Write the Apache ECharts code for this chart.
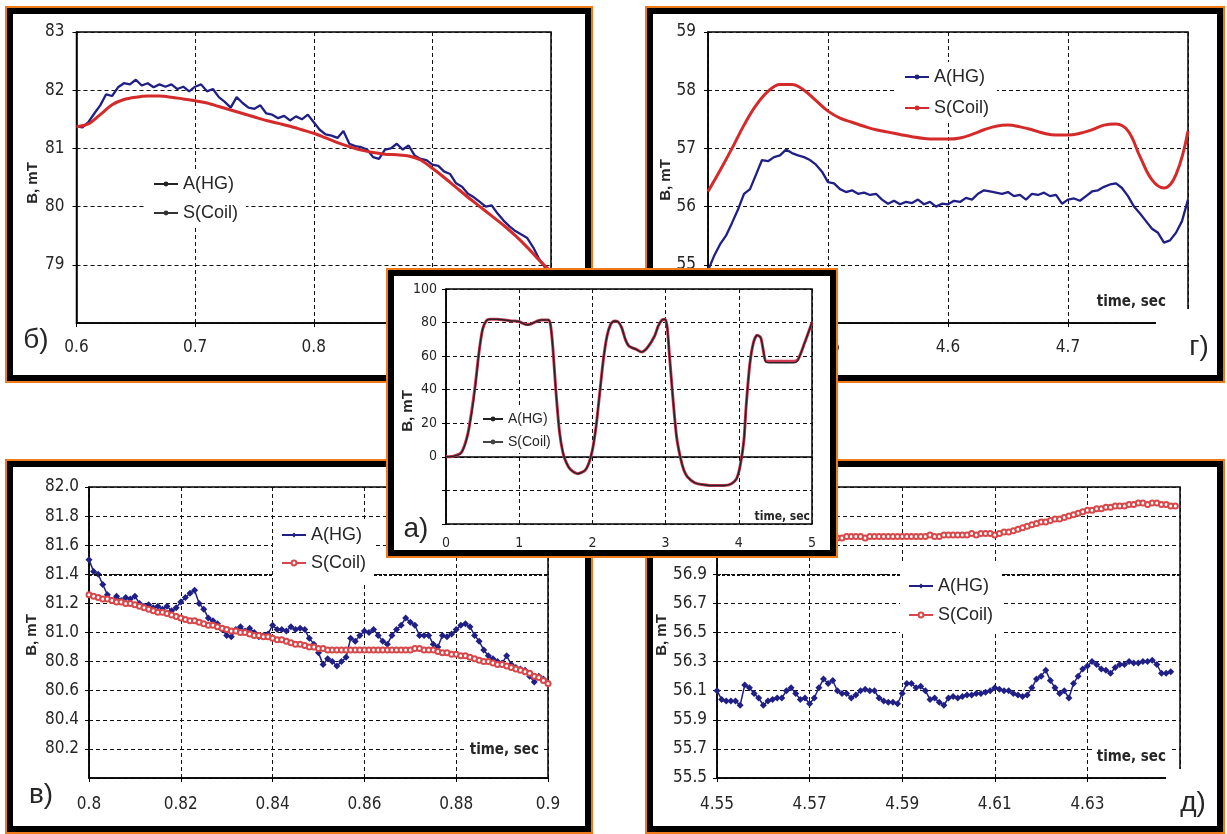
<!DOCTYPE html>
<html>
<head>
<meta charset="utf-8">
<title>B(t): A(HG) / S(Coil)</title>
<script src="https://cdn.jsdelivr.net/npm/echarts@6/dist/echarts.min.js"></script>
<style>
html, body { margin: 0; padding: 0; background: #fff; }
body { width: 1227px; height: 834px; position: relative; overflow: hidden; }
.panel { position: absolute; box-sizing: border-box; border: 6px solid #000; outline: 2px solid #ef7a1a; background: #fff; }
.panel > div { width: 100%; height: 100%; }
</style>
</head>
<body>
<div class="panel" id="pb" style="left:7px;top:8px;width:584px;height:373px"><div id="cb"></div></div>
<div class="panel" id="pg" style="left:647px;top:8px;width:576px;height:373px"><div id="cg"></div></div>
<div class="panel" id="pv" style="left:7px;top:461px;width:584px;height:371px"><div id="cv"></div></div>
<div class="panel" id="pd" style="left:647px;top:461px;width:576px;height:371px"><div id="cd"></div></div>
<div class="panel" id="pa" style="left:388px;top:270px;width:448px;height:286px;z-index:10"><div id="ca"></div></div>

<script type="text/javascript">
// ---- data ----

// б) 0.6 .. 1.0 s
var bTimeA0 = 0.6, bStepA = 0.005;
var bHG = [81.38,81.36,81.45,81.60,81.74,81.93,81.90,82.05,82.12,82.10,
           82.18,82.08,82.12,82.05,82.10,82.06,82.10,82.02,82.06,81.98,
           82.06,82.10,81.98,82.02,81.88,81.80,81.70,81.88,81.78,81.70,
           81.68,81.74,81.60,81.58,81.52,81.56,81.48,81.55,81.50,81.58,
           81.45,81.32,81.24,81.22,81.18,81.30,81.08,81.04,81.02,80.98,
           80.85,80.82,80.98,81.00,81.08,80.98,81.05,80.88,80.82,80.80,
           80.72,80.70,80.60,80.56,80.40,80.34,80.22,80.16,80.08,80.00,
           80.02,79.88,79.76,79.66,79.58,79.52,79.46,79.30,79.10,78.95];
var bTimeS0 = 0.6, bStepS = 0.01;
var bCoil = [81.37,81.42,81.58,81.75,81.84,81.88,81.90,81.90,81.88,81.85,
             81.82,81.78,81.72,81.66,81.60,81.54,81.48,81.43,81.38,81.32,
             81.26,81.18,81.10,81.03,80.97,80.93,80.90,80.89,80.87,80.80,
             80.66,80.50,80.33,80.16,80.00,79.84,79.68,79.50,79.30,79.08,78.88];

// г) 4.4 .. 4.8 s
var gTimeA0 = 4.4, gStepA = 0.005;
var gHG = [54.90,55.15,55.35,55.50,55.72,55.95,56.22,56.30,56.55,56.80,
           56.78,56.85,56.88,56.98,56.92,56.88,56.85,56.80,56.72,56.60,
           56.42,56.40,56.30,56.25,56.28,56.22,56.24,56.20,56.22,56.12,
           56.05,56.10,56.04,56.08,56.06,56.12,56.04,56.08,56.00,56.05,
           56.04,56.10,56.08,56.15,56.12,56.22,56.28,56.26,56.24,56.22,
           56.25,56.18,56.20,56.12,56.22,56.20,56.24,56.18,56.20,56.05,
           56.12,56.14,56.10,56.18,56.26,56.28,56.34,56.38,56.40,56.32,
           56.18,56.00,55.88,55.75,55.62,55.55,55.38,55.42,55.55,55.75,56.12];
var gTimeS0 = 4.4, gStepS = 0.01;
var gCoil = [56.26,56.62,57.00,57.40,57.74,57.98,58.10,58.10,58.00,57.82,
             57.64,57.52,57.45,57.38,57.32,57.28,57.24,57.20,57.17,57.16,
             57.16,57.18,57.24,57.32,57.38,57.40,57.37,57.32,57.26,57.23,
             57.23,57.26,57.32,57.40,57.42,57.30,56.86,56.46,56.32,56.55,57.30];

// а) whole record 0 .. 5 s  [t, B]
var aHG = [[0,0],[0.1,0.3],[0.2,2],[0.25,6],[0.3,14],[0.35,26],[0.4,42],[0.45,62],[0.5,76],[0.55,81],
           [0.6,82],[0.7,82],[0.8,81.5],[0.9,81],[1.0,80.5],[1.05,79.5],[1.1,78.5],[1.15,79],[1.2,80],
           [1.3,81.5],[1.4,81.5],[1.43,78],[1.46,65],[1.5,40],[1.55,15],[1.6,2],[1.65,-4],[1.7,-7.5],
           [1.8,-10],[1.9,-8],[1.95,-4],[2.0,4],[2.05,18],[2.1,38],[2.15,58],[2.2,72],[2.25,79],[2.3,81],
           [2.35,80.5],[2.4,77],[2.45,70],[2.5,66],[2.6,64],[2.67,62.5],[2.75,65],[2.85,72],[2.9,78],
           [2.95,81.5],[2.99,82],[3.02,78],[3.05,62],[3.1,35],[3.15,12],[3.2,0],[3.25,-8],[3.3,-12],
           [3.4,-15.5],[3.5,-16.5],[3.6,-17],[3.8,-17],[3.9,-16],[3.97,-13],[4.02,-5],[4.07,10],[4.1,30],
           [4.15,55],[4.2,68],[4.25,72.5],[4.3,71],[4.34,62],[4.37,56.5],[4.45,56],[4.6,56],[4.75,56],
           [4.8,57],[4.85,62],[4.9,68],[4.95,74],[5.0,80]];
var aCoil = [[0,0],[0.1,0.4],[0.2,2.2],[0.25,6.5],[0.3,14],[0.35,27],[0.4,43],[0.45,62],[0.5,76],[0.55,81],
             [0.6,82],[0.7,82],[0.8,81.5],[0.9,81],[1.0,80.5],[1.05,79.5],[1.1,79],[1.15,79],[1.2,80],
             [1.3,81.5],[1.4,81.5],[1.43,78],[1.46,65],[1.5,40],[1.55,15],[1.6,2],[1.65,-4],[1.7,-7.5],
             [1.8,-10],[1.9,-8],[1.95,-4],[2.0,4],[2.05,18],[2.1,38],[2.15,58],[2.2,72],[2.25,79],[2.3,81],
             [2.35,80.5],[2.4,77],[2.45,70],[2.5,66],[2.6,64],[2.67,62.5],[2.75,65],[2.85,72],[2.9,78],
             [2.95,81.5],[2.99,82],[3.02,78],[3.05,62],[3.1,35],[3.15,12],[3.2,0],[3.25,-8],[3.3,-12],
             [3.4,-15.5],[3.5,-16.5],[3.6,-17],[3.8,-17],[3.9,-16],[3.97,-13],[4.02,-5],[4.07,10],[4.1,30],
             [4.15,55],[4.2,68],[4.25,72.5],[4.3,71],[4.34,62],[4.37,57],[4.45,57],[4.6,57],[4.75,57],
             [4.8,57.5],[4.85,62],[4.9,68],[4.95,74],[5.0,80]];

// в) 0.80 .. 0.90 s
var vTime0 = 0.8, vStep = 0.001;
var vHG = [81.50,81.42,81.40,81.33,81.26,81.22,81.25,81.22,81.24,81.23,
           81.25,81.20,81.18,81.19,81.17,81.18,81.16,81.18,81.15,81.17,
           81.21,81.24,81.27,81.29,81.20,81.16,81.10,81.08,81.06,81.02,
           80.98,80.97,81.02,81.04,81.01,81.03,81.00,80.97,80.98,80.99,
           81.05,81.02,81.02,81.01,81.04,81.02,81.03,81.02,80.96,80.92,
           80.86,80.78,80.82,80.80,80.77,80.80,80.83,80.96,80.94,80.98,
           81.01,81.00,81.02,80.98,80.94,80.92,80.98,81.02,81.05,81.10,
           81.07,81.05,80.98,80.98,80.98,80.92,80.90,80.98,80.97,80.99,
           81.02,81.05,81.06,81.04,80.98,80.94,80.88,80.84,80.82,80.80,
           80.79,80.84,80.78,80.76,80.75,80.74,80.70,80.66,80.70,80.68,80.65];
var vCoil = [81.26,81.25,81.24,81.23,81.23,81.22,81.21,81.21,81.20,81.20,
             81.19,81.18,81.17,81.16,81.15,81.14,81.14,81.13,81.12,81.11,
             81.10,81.09,81.08,81.08,81.07,81.06,81.05,81.05,81.04,81.03,
             81.02,81.01,81.01,81.00,81.00,80.99,80.98,80.98,80.97,80.97,
             80.96,80.95,80.95,80.94,80.93,80.92,80.92,80.91,80.90,80.90,
             80.89,80.89,80.88,80.88,80.88,80.88,80.88,80.88,80.88,80.88,
             80.88,80.88,80.88,80.88,80.88,80.88,80.88,80.88,80.88,80.88,
             80.88,80.89,80.89,80.88,80.88,80.88,80.87,80.86,80.86,80.85,
             80.85,80.84,80.84,80.83,80.82,80.81,80.80,80.80,80.79,80.78,
             80.78,80.77,80.76,80.75,80.74,80.73,80.72,80.70,80.69,80.67,80.65];

// д) 4.55 .. 4.65 s
var dTime0 = 4.55, dStep = 0.001;
var dHG = [56.10,56.04,56.03,56.03,56.03,56.00,56.14,56.12,56.08,56.05,
           56.00,56.03,56.04,56.05,56.05,56.10,56.12,56.08,56.04,56.05,
           56.01,56.05,56.12,56.18,56.15,56.17,56.10,56.08,56.08,56.05,
           56.07,56.10,56.11,56.10,56.10,56.05,56.03,56.02,56.02,56.01,
           56.08,56.15,56.15,56.12,56.13,56.10,56.04,56.05,56.02,56.00,
           56.05,56.06,56.05,56.06,56.07,56.07,56.08,56.08,56.09,56.10,
           56.12,56.11,56.10,56.10,56.08,56.07,56.06,56.07,56.12,56.18,
           56.20,56.24,56.17,56.12,56.08,56.10,56.05,56.15,56.20,56.25,
           56.27,56.30,56.28,56.25,56.24,56.22,56.26,56.28,56.28,56.30,
           56.29,56.29,56.30,56.30,56.31,56.28,56.22,56.22,56.23];
var dCoil = [57.14,57.14,57.15,57.14,57.15,57.15,57.14,57.15,57.15,57.15,
             57.15,57.15,57.14,57.15,57.15,57.15,57.15,57.15,57.16,57.15,
             57.15,57.15,57.16,57.15,57.15,57.16,57.15,57.15,57.16,57.16,
             57.16,57.16,57.15,57.16,57.16,57.16,57.16,57.16,57.16,57.16,
             57.16,57.16,57.16,57.16,57.16,57.16,57.17,57.16,57.16,57.17,
             57.17,57.17,57.17,57.17,57.17,57.18,57.17,57.18,57.18,57.18,
             57.17,57.18,57.19,57.19,57.20,57.21,57.22,57.23,57.24,57.25,
             57.26,57.26,57.27,57.28,57.28,57.29,57.30,57.31,57.32,57.33,
             57.34,57.34,57.35,57.35,57.36,57.36,57.37,57.37,57.37,57.38,
             57.38,57.39,57.39,57.38,57.39,57.39,57.38,57.38,57.37,57.37];

var seriesNames = ['A(HG)', 'S(Coil)'];

// ---- layout (page pixels) ----
var BORDER = 6;
var NARROW = "'Liberation Sans Narrow','Arial Narrow','DejaVu Sans Condensed',sans-serif";
var SANS = "'Liberation Sans',Arial,sans-serif";
var NAVY = '#1f1f86', RED = '#d52a2a', INK = '#262626';

var P = {
  b: {box: [7, 8],     plot: [76.5, 32, 551, 323]},
  g: {box: [647, 8],   plot: [708, 32, 1188, 323]},
  v: {box: [7, 461],   plot: [89, 487, 548, 778]},
  d: {box: [647, 461], plot: [717, 487, 1180, 778]},
  a: {box: [388, 270], plot: [446, 289, 812, 530]}
};

function rx(p, x) { return x - p.box[0] - BORDER; }
function ry(p, y) { return y - p.box[1] - BORDER; }

function pairs(t0, dt, vals) {
  return vals.map(function (v, i) { return [+(t0 + i * dt).toFixed(4), v]; });
}

function gridOf(p) {
  return {left: rx(p, p.plot[0]), top: ry(p, p.plot[1]),
          width: p.plot[2] - p.plot[0], height: p.plot[3] - p.plot[1],
          show: true, borderColor: '#000', borderWidth: 1.5, backgroundColor: 'transparent'};
}

function axis(o) {
  return {
    type: 'value', min: o.min, max: o.max, interval: o.interval,
    axisLine: {show: true, onZero: !!o.onZero, lineStyle: {color: '#000', width: 1.5}},
    axisTick: {show: true, length: 4, lineStyle: {color: '#000'}},
    splitLine: {show: true, lineStyle: {color: '#111', type: [4, 3], width: 1}},
    axisLabel: {color: INK, fontFamily: NARROW, fontSize: o.size || 17, margin: o.margin || 12,
                formatter: o.fmt, showMinLabel: o.showMin !== false, showMaxLabel: o.showMax !== false}
  };
}

function fixed(d) { return function (v) { return v.toFixed(d); }; }
function trim(d) { return function (v) { return String(+v.toFixed(d)); }; }

function text(p, x, y, s, font, extra) {
  var el = {type: 'text', x: rx(p, x), y: ry(p, y), z: 50,
            style: {text: s, font: font, fill: INK, textAlign: 'center', textVerticalAlign: 'middle'}};
  if (extra) {
    for (var k in extra) {
      if (k === 'style') { for (var s2 in extra.style) el.style[s2] = extra.style[s2]; }
      else el[k] = extra[k];
    }
  }
  return el;
}

function yName(p, x, y) {
  return text(p, x, y, 'B, mT', 'bold 15px ' + SANS, {rotation: Math.PI / 2});
}

function legendAt(p, iconX, rowY, o) {
  o = o || {};
  var pad = o.padding || [5, 8, 5, 8];
  var lh = o.lineHeight || 20;
  return {
    orient: 'vertical', left: rx(p, iconX) - pad[3], top: ry(p, rowY) - lh / 2 - pad[0],
    itemWidth: o.iconW || 24, itemHeight: 6, itemGap: o.gap || 9,
    backgroundColor: '#fff', padding: pad, z: 10,
    textStyle: {fontFamily: SANS, fontSize: o.size || 18, color: INK, lineHeight: lh},
    data: o.data || seriesNames
  };
}

function curve(name, data, color, width, extra) {
  var s = {type: 'line', name: name, data: data, symbol: 'none', showSymbol: false,
           lineStyle: {color: color, width: width}, itemStyle: {color: color}, animation: false};
  if (extra) for (var k in extra) s[k] = extra[k];
  return s;
}

function boldLine(y) {
  return {silent: true, symbol: 'none', label: {show: false}, animation: false,
          lineStyle: {color: '#111', type: [3, 2], width: 2.2}, data: [{yAxis: y}]};
}

// ---- б) ----
var pb = P.b;
var optB = {
  animation: false,
  grid: gridOf(pb),
  xAxis: axis({min: 0.6, max: 1.0, interval: 0.1, fmt: trim(1), margin: 16}),
  yAxis: axis({min: 78, max: 83, interval: 1, fmt: trim(0), showMin: false}),
  legend: legendAt(pb, 153, 184, {data: [
    {name: 'A(HG)', itemStyle: {color: '#222'}, lineStyle: {color: '#222'}},
    {name: 'S(Coil)', itemStyle: {color: '#333'}, lineStyle: {color: '#333'}}]}),
  series: [
    curve('A(HG)', pairs(bTimeA0, bStepA, bHG), NAVY, 2.3, {symbol: 'circle', symbolSize: 4}),
    curve('S(Coil)', pairs(bTimeS0, bStepS, bCoil), RED, 3, {smooth: 0.3})
  ],
  graphic: [
    yName(pb, 33, 183),
    text(pb, 36, 340, 'б)', '28px ' + SANS)
  ]
};

// ---- г) ----
var pg = P.g;
var optG = {
  animation: false,
  grid: gridOf(pg),
  xAxis: axis({min: 4.4, max: 4.8, interval: 0.1, fmt: trim(1), margin: 16, showMax: false}),
  yAxis: axis({min: 54, max: 59, interval: 1, fmt: trim(0), showMin: false}),
  legend: legendAt(pg, 904, 77, {padding: [5, 8, 5, 8], gap: 11}),
  series: [
    curve('A(HG)', pairs(gTimeA0, gStepA, gHG), NAVY, 2.3, {symbol: 'circle', symbolSize: 4}),
    curve('S(Coil)', pairs(gTimeS0, gStepS, gCoil), RED, 3, {symbol: 'circle', symbolSize: 4, smooth: 0.4})
  ],
  graphic: [
    {type: 'rect', z: 40, shape: {x: rx(pg, 1156), y: ry(pg, 309), width: 36, height: 18}, style: {fill: '#fff'}},
    yName(pg, 666, 180),
    text(pg, 1166, 302, 'time, sec', 'bold 15px ' + NARROW, {style: {textAlign: 'right'}}),
    text(pg, 1199, 347, 'г)', '28px ' + SANS)
  ]
};

// ---- в) ----
var pv = P.v;
var optV = {
  animation: false,
  grid: gridOf(pv),
  xAxis: axis({min: 0.8, max: 0.9, interval: 0.02, fmt: trim(2), margin: 18}),
  yAxis: axis({min: 80, max: 82, interval: 0.2, fmt: fixed(1), showMin: false, margin: 10}),
  legend: legendAt(pv, 281, 535, {padding: [5, 8, 10, 8], gap: 8}),
  series: [
    curve('A(HG)', pairs(vTime0, vStep, vHG), NAVY, 1.5,
          {symbol: 'diamond', symbolSize: 7, showSymbol: true, markLine: boldLine(81.4)}),
    curve('S(Coil)', pairs(vTime0, vStep, vCoil), '#d8484a', 1.5,
          {symbol: 'emptyCircle', symbolSize: 5, showSymbol: true})
  ],
  graphic: [
    yName(pv, 32, 635),
    text(pv, 542, 750, 'time, sec', 'bold 15px ' + NARROW,
         {style: {textAlign: 'right', backgroundColor: '#fff', padding: [2, 3]}}),
    text(pv, 41, 795, 'в)', '28px ' + SANS)
  ]
};

// ---- д) ----
var pd = P.d;
var optD = {
  animation: false,
  grid: gridOf(pd),
  xAxis: axis({min: 4.55, max: 4.65, interval: 0.02, fmt: fixed(2), margin: 18, showMax: false}),
  yAxis: axis({min: 55.5, max: 57.5, interval: 0.2, fmt: fixed(1), margin: 10}),
  legend: legendAt(pd, 908, 586, {padding: [12, 8, 8, 8], gap: 9}),
  series: [
    curve('A(HG)', pairs(dTime0, dStep, dHG), NAVY, 1.5,
          {symbol: 'diamond', symbolSize: 7, showSymbol: true, markLine: boldLine(56.9)}),
    curve('S(Coil)', pairs(dTime0, dStep, dCoil), '#d8484a', 1.5,
          {symbol: 'emptyCircle', symbolSize: 5, showSymbol: true})
  ],
  graphic: [
    {type: 'rect', z: 40, shape: {x: rx(pd, 1166), y: ry(pd, 769), width: 20, height: 12}, style: {fill: '#fff'}},
    yName(pd, 662, 635),
    text(pd, 1169, 757, 'time, sec', 'bold 15px ' + NARROW,
         {style: {textAlign: 'right', backgroundColor: '#fff', padding: [2, 3]}}),
    text(pd, 1193, 803, 'д)', '28px ' + SANS)
  ]
};

// ---- а) ----
var pa = P.a;
var optA = {
  animation: false,
  grid: gridOf(pa),
  xAxis: axis({min: 0, max: 5, interval: 1, fmt: trim(0), size: 14, margin: 12, onZero: true}),
  yAxis: axis({min: -40, max: 100, interval: 20, size: 14, margin: 9,
               fmt: function (v) { return v < 0 ? '' : String(v); }}),
  legend: legendAt(pa, 482, 419, {size: 14, lineHeight: 16, gap: 7, iconW: 20, padding: [3, 4, 3, 4], data: [
    {name: 'A(HG)', itemStyle: {color: '#222'}, lineStyle: {color: '#222'}},
    {name: 'S(Coil)', itemStyle: {color: '#444'}, lineStyle: {color: '#444'}}]}),
  series: [
    curve('S(Coil)', aCoil, '#d03a55', 3, {smooth: 0.25}),
    curve('A(HG)', aHG, '#2a2226', 1.5, {smooth: 0.25, symbol: 'circle', symbolSize: 3})
  ],
  graphic: [
    yName(pa, 408, 411),
    text(pa, 810, 517, 'time, sec', 'bold 12px ' + NARROW, {style: {textAlign: 'right'}}),
    text(pa, 416, 529, 'а)', '28px ' + SANS)
  ]
};

[['cb', optB], ['cg', optG], ['cv', optV], ['cd', optD], ['ca', optA]].forEach(function (it) {
  var chart = echarts.init(document.getElementById(it[0]), null, {renderer: 'canvas'});
  chart.setOption(it[1]);
});
</script>
</body>
</html>
